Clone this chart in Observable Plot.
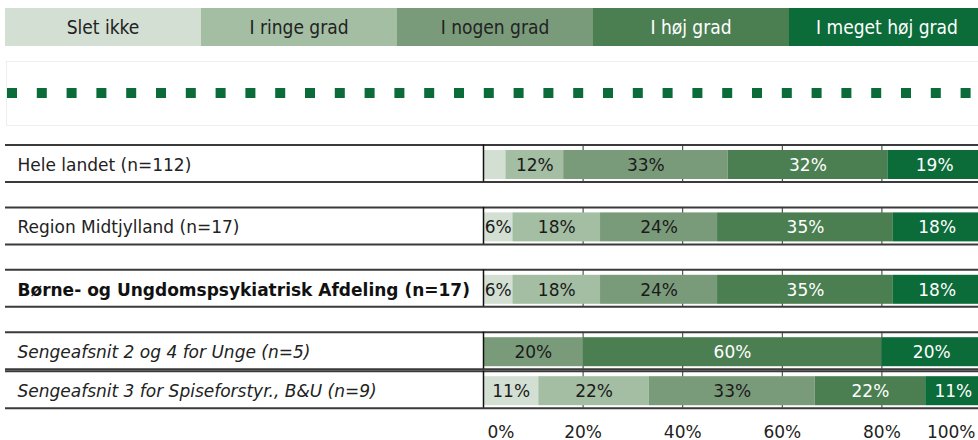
<!DOCTYPE html>
<html><head><meta charset="utf-8">
<script src="https://cdn.jsdelivr.net/npm/d3@7"></script>
<script src="https://cdn.jsdelivr.net/npm/@observablehq/plot@0.6"></script>
<style>
body{margin:0;background:#fff;width:978px;height:440px;overflow:hidden;font-family:"DejaVu Sans",Verdana,sans-serif;}
#legend{position:relative;height:130px;width:978px;overflow:hidden;}
.sw{position:absolute;top:8px;height:38px;width:196px;display:flex;align-items:center;justify-content:center;font-family:"DejaVu Sans Condensed","DejaVu Sans",sans-serif;font-stretch:condensed;font-size:19px;}
#dots{position:absolute;left:6px;top:61px;width:985px;height:65px;border:1px solid #eeeeee;box-sizing:border-box;}
#chart svg{display:block;overflow:visible;}
</style>
</head><body>
<div id="legend"></div>
<div id="chart"></div>
<script>
// ---- data ----
const series = ["Slet ikke", "I ringe grad", "I nogen grad", "I høj grad", "I meget høj grad"];
const categories = [
  "Hele landet (n=112)",
  "Region Midtjylland (n=17)",
  "Børne- og Ungdomspsykiatrisk Afdeling (n=17)",
  "Sengeafsnit 2 og 4 for Unge (n=5)",
  "Sengeafsnit 3 for Spiseforstyr., B&U (n=9)"
];
const level = ["land", "region", "afdeling", "afsnit", "afsnit"];
const sletIkke       = [4.5, 5.9, 5.9, 0, 11.1];
const iRingeGrad     = [11.6, 17.6, 17.6, 0, 22.2];
const iNogenGrad     = [33.0, 23.5, 23.5, 20.0, 33.3];
const iHoejGrad      = [32.1, 35.3, 35.3, 60.0, 22.2];
const iMegetHoejGrad = [18.8, 17.6, 17.6, 20.0, 11.1];
const tickValues = [0, 20, 40, 60, 80, 100];
const tickLabels = ["0%", "20%", "40%", "60%", "80%", "100%"];

// ---- styles ----
const colors = ["#d3dfd3", "#a3bea3", "#7a9b7a", "#4b7f52", "#0b6b39"];
const labelColors = ["#1a1a1a", "#1a1a1a", "#1a1a1a", "#ffffff", "#ffffff"];

// ---- legend ----
const legend = document.getElementById("legend");
series.forEach((s, i) => {
  const d = document.createElement("div");
  d.className = "sw";
  d.style.left = (5 + i * 196) + "px";
  d.style.background = colors[i];
  d.style.color = labelColors[i] === "#ffffff" ? "#ffffff" : "#222";
  d.textContent = s;
  legend.appendChild(d);
});
const dots = document.createElement("div");
dots.id = "dots";
dots.innerHTML = '<svg width="985" height="63" style="display:block"><line x1="0" x2="985" y1="31" y2="31" stroke="#0b6b39" stroke-width="10" stroke-dasharray="10 19.8"/></svg>';
legend.appendChild(dots);

// ---- layout (row slots in y units) ----
const GAP = 0.6, TOP = 0.5/39, BOT = 37.5/39, BAR0 = 6/39, BAR1 = 35/39, MID = 0.535;
const valuesBySeries = [sletIkke, iRingeGrad, iNogenGrad, iHoejGrad, iMegetHoejGrad];
let u = 0;
const rows = categories.map((c, i) => {
  if (i > 0 && !(level[i] === "afsnit" && level[i-1] === "afsnit")) u += GAP;
  const r = {c, i, level: level[i], start: u};
  u += 1;
  return r;
});
const segs = [];
rows.forEach(r => {
  let acc = 0;
  series.forEach((s, k) => {
    const v = valuesBySeries[k][r.i];
    segs.push({row: r, series: s, k, v, x1: acc, x2: acc + v});
    acc += v;
  });
});
const grid = [];
rows.forEach(r => tickValues.slice(1, -1).forEach(t => grid.push({row: r, t})));

const txt = (data, opts) => Plot.text(data, {y: d => d.row.start + MID, ...opts});
const shown = segs.filter(d => d.v >= 5);

const chart = Plot.plot({
  width: 978, height: 310,
  marginLeft: 5, marginRight: 0, marginTop: 0, marginBottom: 0,
  x: {domain: [0, 100], range: [483, 981], axis: null},
  y: {domain: [0, 10], range: [14, 404], axis: null},
  color: {domain: series, range: colors},
  style: {fontFamily: "'DejaVu Sans', Verdana, sans-serif", fontSize: "17px", background: "transparent"},
  marks: [
    Plot.ruleX(grid, {x: "t", y1: d => d.row.start + TOP, y2: d => d.row.start + BOT, stroke: "#333", strokeWidth: 1}),
    Plot.rectX(segs.filter(d => d.v > 0), {x1: "x1", x2: "x2", y1: d => d.row.start + BAR0, y2: d => d.row.start + BAR1, fill: "series"}),
    Plot.ruleY(rows, {y: d => d.start + TOP, stroke: "#3a3a3a", strokeWidth: 2}),
    Plot.ruleY(rows, {y: d => d.start + BOT, stroke: "#3a3a3a", strokeWidth: 2}),
    Plot.ruleX(rows, {x: d => 0, y1: d => d.start + TOP, y2: d => d.start + BOT, stroke: "#111", strokeWidth: 1.5}),
    // row labels
    Plot.text(rows.filter(d => d.level === "land" || d.level === "region"), {y: d => d.start + MID, text: "c", frameAnchor: "left", dx: 12, textAnchor: "start", fill: "#222", fontSize: 17}),
    Plot.text(rows.filter(d => d.level === "afdeling"), {y: d => d.start + MID, text: "c", frameAnchor: "left", dx: 12, textAnchor: "start", fill: "#111", fontWeight: "bold", fontSize: 17}),
    Plot.text(rows.filter(d => d.level === "afsnit"), {y: d => d.start + MID, text: "c", frameAnchor: "left", dx: 12, textAnchor: "start", fill: "#222", fontStyle: "italic", fontSize: 17}),
    // value labels
    txt(shown.filter(d => labelColors[d.k] !== "#ffffff"), {x: d => (d.x1 + d.x2) / 2, text: d => Math.round(d.v) + "%", fill: "#1a1a1a", fontSize: 17}),
    txt(shown.filter(d => labelColors[d.k] === "#ffffff"), {x: d => (d.x1 + d.x2) / 2, text: d => Math.round(d.v) + "%", fill: "#ffffff", fontSize: 17}),
    // axis labels
    Plot.text(tickValues.slice(1, -1), {x: d => d, text: (d, i) => tickLabels[i + 1], frameAnchor: "bottom", lineAnchor: "middle", dy: -8, fill: "#222", fontSize: 17}),
    Plot.text([tickValues[0]], {x: d => d, text: () => tickLabels[0], frameAnchor: "bottom", lineAnchor: "middle", dy: -8, dx: 4, textAnchor: "start", fill: "#222", fontSize: 17}),
    Plot.text([tickValues[tickValues.length - 1]], {x: d => d, text: () => tickLabels[tickLabels.length - 1], frameAnchor: "bottom", lineAnchor: "middle", dy: -8, dx: -6, textAnchor: "end", fill: "#222", fontSize: 17})
  ]
});
document.getElementById("chart").appendChild(chart);
</script>
</body></html>
